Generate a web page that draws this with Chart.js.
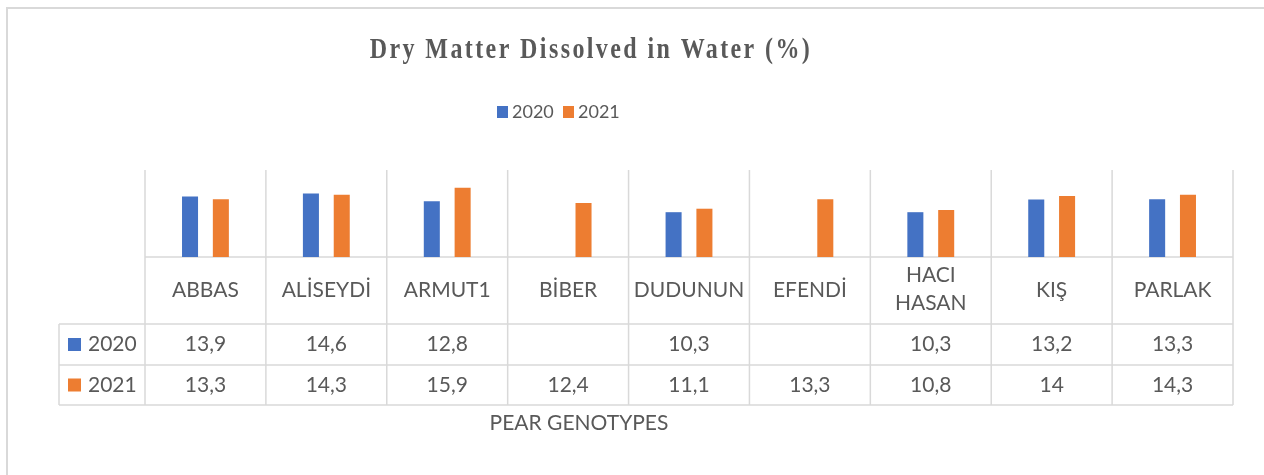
<!DOCTYPE html>
<html>
<head>
<meta charset="utf-8">
<script src="https://cdn.jsdelivr.net/npm/chart.js@4/dist/chart.umd.min.js"></script>
<style>
  html, body { margin: 0; padding: 0; background: #fff; }
  #wrap { width: 1264px; height: 475px; }
</style>
</head>
<body>
<div id="wrap"><canvas id="chart"></canvas></div>
<script>
"use strict"

// Data
const categories = ["ABBAS", "ALİSEYDİ", "ARMUT1", "BİBER", "DUDUNUN", "EFENDİ", ["HACI", "HASAN"], "KIŞ", "PARLAK"];
const seriesNames = ["2020", "2021"];
const values2020 = [13.9, 14.6, 12.8, null, 10.3, null, 10.3, 13.2, 13.3];
const values2021 = [13.3, 14.3, 15.9, 12.4, 11.1, 13.3, 10.8, 14, 14.3];
const colors = ["#4472C4", "#ED7D31"];

const titleText = "Dry Matter Dissolved in Water (%)";
const axisTitle = "PEAR GENOTYPES";

const textColor = "#595959";
const lineColor = "#D9D9D9";
const sansFont = "Lato, 'Open Sans', sans-serif";

// comma as decimal separator, like the table in the picture
function fmt(v) {
    if (v === null || v === undefined) return "";
    return String(v).replace(".", ",");
}

// draws the frame, title, legend and the data table under the bars
const tablePlugin = {
    id: "excelTable",
    beforeDatasetsDraw(chart) {
        const ctx = chart.ctx;
        const area = chart.chartArea;
        const x = chart.scales.x;
        const colW = (area.right - area.left) / categories.length;
        const rowTop = area.bottom + 67;
        const rowMid = rowTop + 41;
        const rowBottom = rowMid + 40;
        const tableLeft = 59;

        ctx.save();
        // outer frame
        ctx.strokeStyle = "#D9D9D9";
        ctx.lineWidth = 2;
        ctx.strokeRect(7, 8, 1300, 500);

        ctx.strokeStyle = lineColor;
        ctx.lineWidth = 1.5;
        ctx.beginPath();
        for (let i = 0; i <= categories.length; i++) {
            const lx = area.left + i * colW;
            ctx.moveTo(lx, area.top);
            ctx.lineTo(lx, rowBottom);
        }
        ctx.moveTo(tableLeft, rowTop);
        ctx.lineTo(tableLeft, rowBottom);
        ctx.moveTo(area.left, area.bottom);
        ctx.lineTo(area.right, area.bottom);
        [rowTop, rowMid, rowBottom].forEach(y => {
            ctx.moveTo(tableLeft, y);
            ctx.lineTo(area.right, y);
        });
        ctx.stroke();

        ctx.fillStyle = textColor;
        ctx.textAlign = "center";
        ctx.textBaseline = "middle";
        ctx.font = "21px " + sansFont;

        // category labels
        const labelMid = (area.bottom + rowTop) / 2;
        categories.forEach((c, i) => {
            const cx = x.getPixelForValue(i);
            if (Array.isArray(c)) {
                ctx.fillText(c[0], cx, labelMid - 15);
                ctx.fillText(c[1], cx, labelMid + 13);
            } else {
                ctx.fillText(c, cx, labelMid);
            }
        });

        // table rows
        const series = [values2020, values2021];
        const mids = [(rowTop + rowMid) / 2, (rowMid + rowBottom) / 2];
        series.forEach((vals, s) => {
            vals.forEach((v, i) => {
                ctx.fillText(fmt(v), x.getPixelForValue(i), mids[s]);
            });
            ctx.fillStyle = colors[s];
            ctx.fillRect(68, mids[s] - 6.5, 13, 13);
            ctx.fillStyle = textColor;
            ctx.textAlign = "left";
            ctx.fillText(seriesNames[s], 88, mids[s]);
            ctx.textAlign = "center";
        });

        // axis title
        ctx.font = "21px " + sansFont;
        ctx.fillText(axisTitle, 579, 423);

        // legend
        ctx.font = "18px " + sansFont;
        ctx.textAlign = "left";
        const legendX = [497, 563];
        seriesNames.forEach((n, s) => {
            ctx.fillStyle = colors[s];
            ctx.fillRect(legendX[s], 106, 11, 12);
            ctx.fillStyle = textColor;
            ctx.fillText(n, legendX[s] + 15, 112);
        });

        // title, a bit narrowed like the original
        ctx.save();
        ctx.translate(591, 58);
        ctx.scale(0.8, 1);
        ctx.font = "bold 30px 'Liberation Serif', 'Times New Roman', serif";
        ctx.letterSpacing = "3px";
        ctx.textAlign = "center";
        ctx.textBaseline = "alphabetic";
        ctx.fillText(titleText, 0, 0);
        ctx.restore();
        ctx.restore();
    }
};

new Chart(document.getElementById("chart"), {
    type: "bar",
    data: {
        labels: categories,
        datasets: [{
            label: seriesNames[0],
            data: values2020,
            backgroundColor: colors[0],
            categoryPercentage: 0.51,
            barPercentage: 0.52
        }, {
            label: seriesNames[1],
            data: values2021,
            backgroundColor: colors[1],
            categoryPercentage: 0.51,
            barPercentage: 0.52
        }]
    },
    options: {
        responsive: true,
        maintainAspectRatio: false,
        animation: false,
        layout: {
            padding: { left: 145, right: 31, top: 170, bottom: 218 }
        },
        plugins: {
            legend: { display: false },
            title: { display: false },
            tooltip: { enabled: false }
        },
        scales: {
            x: { display: false },
            y: { display: false, min: 0, max: 20 }
        }
    },
    plugins: [tablePlugin]
});
</script>
</body>
</html>
